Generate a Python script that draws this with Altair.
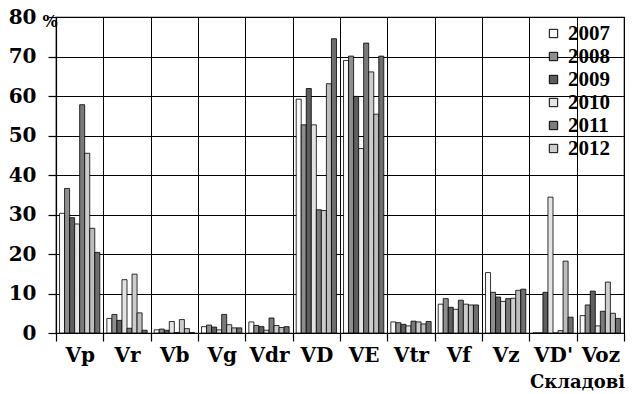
import altair as alt
import pandas as pd

categories = ["Vp", "Vr", "Vb", "Vg", "Vdr", "VD", "VE", "Vtr", "Vf", "Vz", "VD'", "Voz"]
series = ["2007", "2008", "2009", "2010", "2011", "2012", "series 7", "series 8"]
legend_years = ["2007", "2008", "2009", "2010", "2011", "2012"]

s2007 = [30.3, 3.7, 0.8, 1.6, 2.8, 59.2, 69.0, 2.8, 7.3, 15.3, 0.0, 4.4]
s2008 = [36.6, 4.7, 1.0, 2.0, 1.9, 52.7, 70.1, 2.6, 8.7, 10.3, 0.0, 7.1]
s2009 = [29.2, 3.2, 0.7, 1.5, 1.6, 61.9, 59.9, 2.2, 6.5, 9.1, 10.3, 10.6]
s2010 = [27.6, 13.5, 2.9, 0.8, 0.7, 52.7, 46.7, 1.8, 6.0, 8.0, 34.4, 1.8]
s2011 = [57.8, 1.2, 0.1, 4.7, 3.8, 31.2, 73.4, 3.0, 8.3, 8.7, 0.0, 5.5]
s2012 = [45.5, 14.9, 3.4, 2.1, 1.9, 31.0, 66.1, 2.8, 7.3, 8.8, 0.6, 12.9]
s7 = [26.5, 5.1, 1.1, 1.3, 1.4, 63.1, 55.4, 2.3, 7.1, 10.8, 18.2, 5.0]
s8 = [20.4, 0.7, 0.1, 1.3, 1.6, 74.5, 70.1, 2.9, 7.1, 11.1, 4.0, 3.7]

all_series = [s2007, s2008, s2009, s2010, s2011, s2012, s7, s8]
grays = ["#f8f8f8", "#8e8e8e", "#5e5e5e", "#e4e4e4", "#7a7a7a", "#cdcdcd", "#bdbdbd", "#6e6e6e"]

rows = []
for name, vals in zip(series, all_series):
    for c, v in zip(categories, vals):
        rows.append({"cat": c, "series": name, "value": v})
df = pd.DataFrame(rows)

LFONT = "Liberation Serif"
AXFONT = "DejaVu Serif"

bars = alt.Chart(df).mark_bar(stroke="black", strokeWidth=0.8).encode(
    x=alt.X("cat:N", sort=categories,
            scale=alt.Scale(paddingInner=0, paddingOuter=0),
            axis=alt.Axis(title=None, tickBand="extent", grid=True, gridColor="black",
                          gridOpacity=1, gridWidth=1, domainColor="black", domainWidth=1.2,
                          tickColor="black", tickSize=8, tickWidth=1.2,
                          labelFont=AXFONT, labelFontWeight="bold",
                          labelFontSize=20, labelColor="black", labelPadding=4, labelAngle=0)),
    xOffset=alt.XOffset("series:N", sort=series,
                        scale=alt.Scale(paddingOuter=0.7, paddingInner=0)),
    y=alt.Y("value:Q", scale=alt.Scale(domain=[0, 80], nice=False),
            axis=alt.Axis(title=None, values=list(range(0, 81, 10)), grid=True,
                          gridColor="black", gridOpacity=1, gridWidth=1,
                          domainColor="black", domainWidth=1.2,
                          tickColor="black", tickSize=8, tickWidth=1.2,
                          labelFont=AXFONT, labelFontWeight="bold",
                          labelFontSize=20, labelColor="black", labelPadding=12)),
    color=alt.Color("series:N", sort=series,
                    scale=alt.Scale(domain=series, range=grays),
                    legend=alt.Legend(values=legend_years, orient="none", legendX=487,
                                      legendY=6, title=None, symbolType="square",
                                      symbolSize=70, symbolStrokeColor="black",
                                      symbolStrokeWidth=1, labelFont=LFONT,
                                      labelFontWeight="bold",
                                      labelFontSize=21, labelColor="black", rowPadding=1,
                                      labelOffset=4, padding=0)),
)

pct = alt.Chart(pd.DataFrame({"t": ["%"]})).mark_text(
    font=AXFONT, fontWeight="bold",
    fontSize=16, color="black", align="center", baseline="middle"
).encode(text="t:N", x=alt.value(-6), y=alt.value(5))

comp = alt.Chart(pd.DataFrame({"t": ["Складові"]})).mark_text(
    font=AXFONT, fontWeight="bold",
    fontSize=18, color="black", align="right", baseline="middle"
).encode(text="t:N", x=alt.value(569), y=alt.value(366))

chart = alt.layer(bars, pct, comp).properties(
    width=568, height=316,
    autosize=alt.AutoSizeParams(type="none"),
    padding={"left": 56, "top": 17, "right": 13, "bottom": 61},
).configure_view(stroke="black", strokeWidth=1.2)

chart.save("out.html", embed_options={"renderer": "svg", "actions": False})
